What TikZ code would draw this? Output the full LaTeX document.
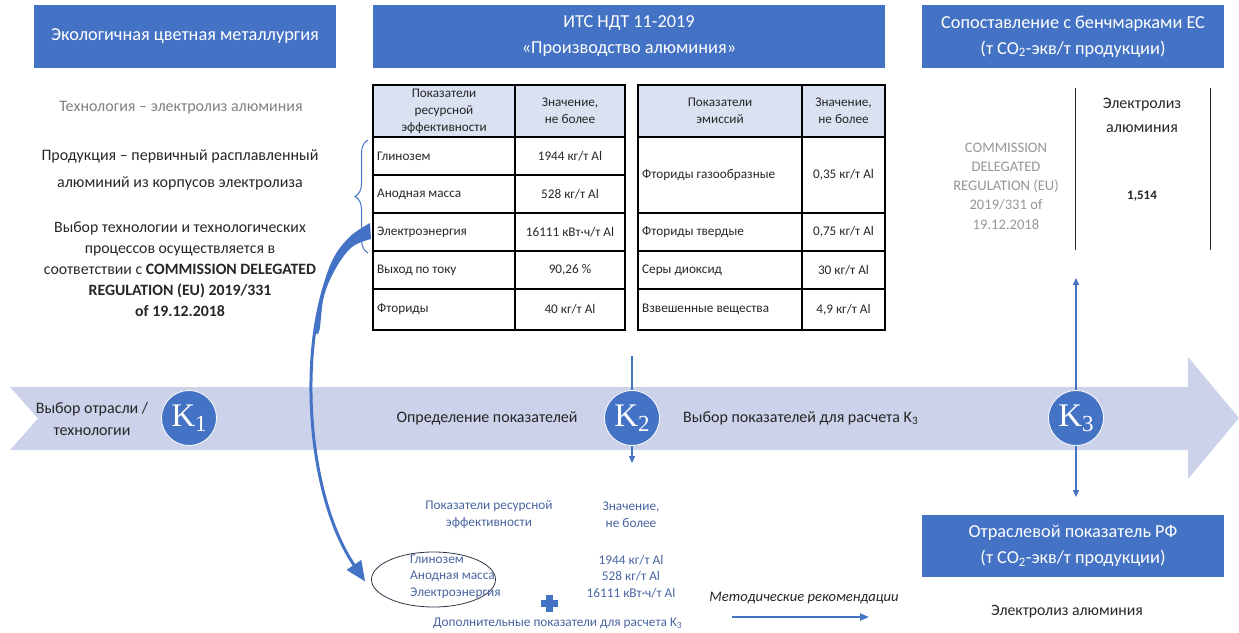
\documentclass[tikz,border=0pt]{standalone}
\usepackage{fontspec}
\setmainfont{Carlito}
\newfontfamily\kfont{Liberation Serif}
\usetikzlibrary{arrows.meta,decorations.pathreplacing,shapes.geometric}
\definecolor{hdr}{RGB}{68,114,196}
\definecolor{band}{RGB}{203,210,234}
\definecolor{thd}{RGB}{218,226,242}
\definecolor{txtg}{RGB}{128,128,128}
\definecolor{txtl}{RGB}{150,150,150}
\definecolor{txtb}{RGB}{72,100,160}
\definecolor{txtd}{RGB}{38,38,38}
\newcommand{\fs}[2]{\fontsize{#1}{#2}\selectfont}
\newcommand{\kk}[1]{{\kfont\fs{33}{33}K\raisebox{-5pt}{\fs{23}{23}#1}}}
\begin{document}
\begin{tikzpicture}[x=1pt,y=-1pt,
  hbox/.style={fill=hdr, text=white, font=\fs{18.3}{26}, align=center, inner sep=0pt, minimum height=63pt},
  knode/.style={circle, fill=hdr, draw=white, line width=0.8pt, minimum size=55pt, inner sep=0pt, text=white},
  tbl/.style={draw=black, line width=1.3pt},
  ttxt/.style={font=\fs{13.2}{17}, text=txtd, inner sep=0pt},
  tname/.style={ttxt, anchor=west},
  bline/.style={draw=hdr, line width=1.4pt},
  barrow/.style={bline, -{Triangle[length=7pt,width=6pt]}},
  btxt/.style={font=\fs{13.3}{17}, text=txtb, align=center, inner sep=0pt},
  ltxt/.style={font=\fs{15.8}{21}, text=txtd, align=center, inner sep=0pt}]
\useasboundingbox (0,0) rectangle (1239,632);

% big band arrow
\fill[band] (10,387) -- (1188,387) -- (1188,357) -- (1239,418) -- (1188,479) -- (1188,450) -- (10,450) -- (38,418.5) -- cycle;

% headers
\node[hbox, minimum width=302pt] (h1) at (185,36.5) {Экологичная цветная металлургия};
\node[hbox, minimum width=512pt] (h2) at (629,36.5) {ИТС НДТ 11-2019\\«Производство алюминия»};
\node[hbox, minimum width=302pt] (h3) at (1073,36.5) {Сопоставление с бенчмарками ЕС\\(т CO\textsubscript{2}-экв/т продукции)};
\node[hbox, minimum width=302pt, minimum height=62pt] (h4) at (1073,546) {Отраслевой показатель РФ\\(т CO\textsubscript{2}-экв/т продукции)};

% left texts
\node[ltxt, text=txtg, font=\fs{16}{20}] (l1) at (181,108) {Технология – электролиз алюминия};
\node[ltxt, font=\fs{16}{27}] (l2) at (180,170) {Продукция – первичный расплавленный\\алюминий из корпусов электролиза};
\node[ltxt] (l3) at (180,269.5) {Выбор технологии и технологических\\процессов осуществляется в\\соответствии с \textbf{COMMISSION DELEGATED}\\\textbf{REGULATION (EU) 2019/331}\\\textbf{of 19.12.2018}};

% table 1
\fill[thd] (373,85) rectangle (625,137);
\draw[tbl] (373,85) rectangle (625,330);
\draw[tbl] (515,85) -- (515,330);
\foreach \yy in {137,175,213,251,289} \draw[tbl] (373,\yy) -- (625,\yy);
\node[ttxt, align=center] (t1h1) at (444,111) {Показатели\\ресурсной\\эффективности};
\node[ttxt, align=center] (t1h2) at (570,111) {Значение,\\не более};
\node[tname] (t1a) at (377,156) {Глинозем};
\node[ttxt] (t1av) at (570,156) {1944 кг/т Al};
\node[tname] (t1b) at (377,194) {Анодная масса};
\node[ttxt] (t1bv) at (570,194) {528 кг/т Al};
\node[tname] (t1c) at (377,232) {Электроэнергия};
\node[ttxt] (t1cv) at (570,232) {16111 кВт·ч/т Al};
\node[tname] (t1d) at (377,270) {Выход по току};
\node[ttxt] (t1dv) at (570,270) {90,26 \%};
\node[tname] (t1e) at (377,309.5) {Фториды};
\node[ttxt] (t1ev) at (570,309.5) {40 кг/т Al};

% table 2
\fill[thd] (638,85) rectangle (885,137);
\draw[tbl] (638,85) rectangle (885,330);
\draw[tbl] (802,85) -- (802,330);
\foreach \yy in {137,213,251,289} \draw[tbl] (638,\yy) -- (885,\yy);
\node[ttxt, align=center] (t2h1) at (720,111) {Показатели\\эмиссий};
\node[ttxt, align=center] (t2h2) at (843.5,111) {Значение,\\не более};
\node[tname] (t2a) at (642,175) {Фториды газообразные};
\node[ttxt] (t2av) at (843.5,175) {0,35 кг/т Al};
\node[tname] (t2b) at (642,232) {Фториды твердые};
\node[ttxt] (t2bv) at (843.5,232) {0,75 кг/т Al};
\node[tname] (t2c) at (642,270) {Серы диоксид};
\node[ttxt] (t2cv) at (843.5,270) {30 кг/т Al};
\node[tname] (t2d) at (642,309.5) {Взвешенные вещества};
\node[ttxt] (t2dv) at (843.5,309.5) {4,9 кг/т Al};

% right benchmark area
\draw[line width=0.8pt, txtd] (1075,88) -- (1075,250);
\draw[line width=0.8pt, txtd] (1210,88) -- (1210,250);
\node[ltxt, font=\fs{16}{24}] (r1) at (1142,115) {Электролиз\\алюминия};
\node[ltxt, font=\bfseries\fs{13}{14}] (r2) at (1142,196) {1,514};
\node[ltxt, text=txtl, font=\fs{14.6}{19.3}] (r3) at (1006,186) {COMMISSION\\DELEGATED\\REGULATION (EU)\\2019/331 of\\19.12.2018};

% brace
\draw[hdr, line width=1pt, decorate, decoration={brace, amplitude=13pt, aspect=0.5}] (368,253) -- (368,140);

% K circles and band texts
\node[ltxt, font=\fs{16}{22}] (b1) at (92,419) {Выбор отрасли /\\технологии};
\node[knode] (k1) at (189,418) {\kk{1}};
\node[ltxt, font=\fs{16}{20}] (b2) at (487,418) {Определение показателей};
\node[knode] (k2) at (632,418) {\kk{2}};
\node[ltxt, anchor=west, font=\fs{16}{20}] (b3) at (683,418) {Выбор показателей для расчета K\textsubscript{3}};
\node[knode] (k3) at (1076,418) {\kk{3}};

% vertical connectors
\coordinate (k2top) at (632,356);
\coordinate (k2bot) at (632,463);
\coordinate (k3top) at (1076,278);
\coordinate (k3bot) at (1076,497);
\draw[bline] (k2top) -- (k2.north);
\draw[barrow] (k2.south) -- (k2bot);
\draw[barrow] (k3.north) -- (k3top);
\draw[barrow] (k3.south) -- (k3bot);

% bottom middle
\node[btxt] (m1) at (489,515) {Показатели ресурсной\\эффективности};
\node[btxt] (m2) at (631,515) {Значение,\\не более};
\node[ellipse, draw=txtd!80!hdr, line width=0.8pt, minimum width=124pt, minimum height=55pt, inner sep=0pt] (ell) at (433.5,579.5) {};
\node[btxt, align=left, anchor=west, font=\fs{13.3}{16.5}] (m3) at (410,576.5) {Глинозем\\Анодная масса\\Электроэнергия};
\node[btxt, font=\fs{13.3}{16.5}] (m4) at (631,576.5) {1944 кг/т Al\\528 кг/т Al\\16111 кВт·ч/т Al};
\fill[hdr] (541,600) rectangle (558,606.5);
\fill[hdr] (546.3,594.5) rectangle (552.7,612);
\node[btxt, anchor=west] (m5) at (433,623) {Дополнительные показатели для расчета K\textsubscript{3}};

% metod
\node[ltxt, font=\itshape\fs{14.6}{16}] (md) at (804,598) {Методические рекомендации};
\coordinate (mda) at (732,617);
\coordinate (mdb) at (869,617);
\draw[bline, line width=2pt, -{Triangle[length=9pt,width=7pt]}] (mda) -- (mdb);
\node[ltxt, font=\fs{15.8}{16}] (re) at (1067,612) {Электролиз алюминия};

% curved arrow from brace to ellipse
\coordinate (arrs) at (366,231);
\fill[hdr] plot[smooth, tension=0.6] coordinates {(370,223) (350,236.5) (333,259) (321,294) (316,330) (319.5,330) (324,296) (336,268) (352,247) (371,239)} -- cycle;
\draw[hdr, line width=3pt, -{Triangle[length=20pt,width=17pt]}] (arrs) .. controls (300,252) and (290,470) .. ([xshift=-6pt,yshift=-2pt]ell.west);
\end{tikzpicture}
\end{document}
